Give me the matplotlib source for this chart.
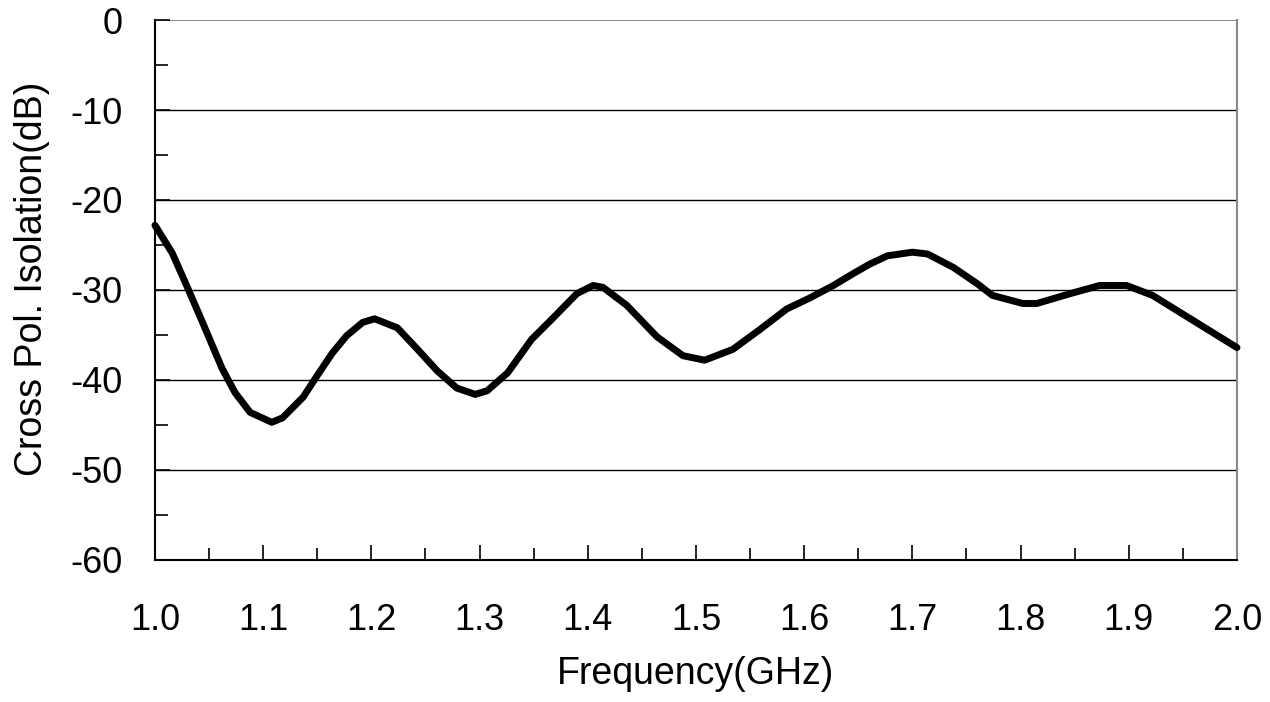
import matplotlib
matplotlib.use('Agg')
import matplotlib.pyplot as plt
from matplotlib.ticker import MultipleLocator

# values
freq_ghz = [1.000, 1.016, 1.030, 1.044, 1.062, 1.074, 1.088, 1.108, 1.118, 1.137,
            1.150, 1.164, 1.177, 1.192, 1.203, 1.224, 1.242, 1.261, 1.279, 1.296,
            1.307, 1.326, 1.348, 1.368, 1.390, 1.405, 1.414, 1.436, 1.464, 1.488,
            1.508, 1.534, 1.559, 1.584, 1.605, 1.627, 1.645, 1.661, 1.677, 1.700,
            1.714, 1.738, 1.760, 1.774, 1.802, 1.815, 1.846, 1.873, 1.898, 1.922,
            2.000]
isolation_db = [-22.8, -25.9, -29.7, -33.6, -38.7, -41.4, -43.6, -44.7, -44.2, -41.9,
                -39.5, -37.0, -35.1, -33.6, -33.2, -34.2, -36.5, -39.0, -40.9, -41.6,
                -41.2, -39.2, -35.5, -33.1, -30.4, -29.5, -29.7, -31.7, -35.2, -37.3,
                -37.8, -36.6, -34.4, -32.1, -30.9, -29.5, -28.2, -27.1, -26.2, -25.8,
                -26.0, -27.5, -29.3, -30.6, -31.5, -31.5, -30.4, -29.5, -29.5, -30.6,
                -36.4]

x_ticks = [1.0, 1.1, 1.2, 1.3, 1.4, 1.5, 1.6, 1.7, 1.8, 1.9, 2.0]
y_ticks = [0, -10, -20, -30, -40, -50, -60]

plt.rcParams['font.family'] = ['Liberation Sans', 'DejaVu Sans']
plt.rcParams['axes.unicode_minus'] = False

fig = plt.figure(figsize=(12.7, 7.02), dpi=100)
ax = fig.add_axes([0.122, 0.2023, 0.852, 0.7692])

# horizontal grid lines
for v in y_ticks[1:-1]:
    ax.axhline(v, color='black', lw=1.0, zorder=1)
ax.axhline(0, color='#777777', lw=1.2, zorder=1)

ax.plot(freq_ghz, isolation_db, color='black', lw=5.0, solid_joinstyle='round',
        solid_capstyle='round', zorder=3, clip_on=False)

ax.set_xlim(1.0, 2.0)
ax.set_ylim(-60, 0)
ax.set_xticks(x_ticks)
ax.set_xticklabels([f'{t:.1f}' for t in x_ticks])
ax.set_yticks(y_ticks)
ax.xaxis.set_minor_locator(MultipleLocator(0.05))
ax.yaxis.set_minor_locator(MultipleLocator(5))

ax.tick_params(axis='both', which='major', direction='in', length=11, width=1.2,
               labelsize=26)
ax.tick_params(axis='both', which='minor', direction='in', length=9, width=1.2)
ax.tick_params(axis='x', which='major', pad=31)
ax.tick_params(axis='y', which='major', pad=23)

ax.spines['top'].set_visible(False)
ax.spines['right'].set_color('#888888')
ax.spines['right'].set_linewidth(1.5)
ax.spines['left'].set_linewidth(1.5)
ax.spines['bottom'].set_linewidth(1.5)

ax.set_xlabel('Frequency(GHz)', fontsize=27)
ax.set_ylabel('Cross Pol. Isolation(dB)', fontsize=27)
ax.xaxis.set_label_coords(0.5, -0.178)
ax.yaxis.set_label_coords(-0.097, 0.52)

fig.savefig('out.png', dpi=100, facecolor='white')
plt.close(fig)
